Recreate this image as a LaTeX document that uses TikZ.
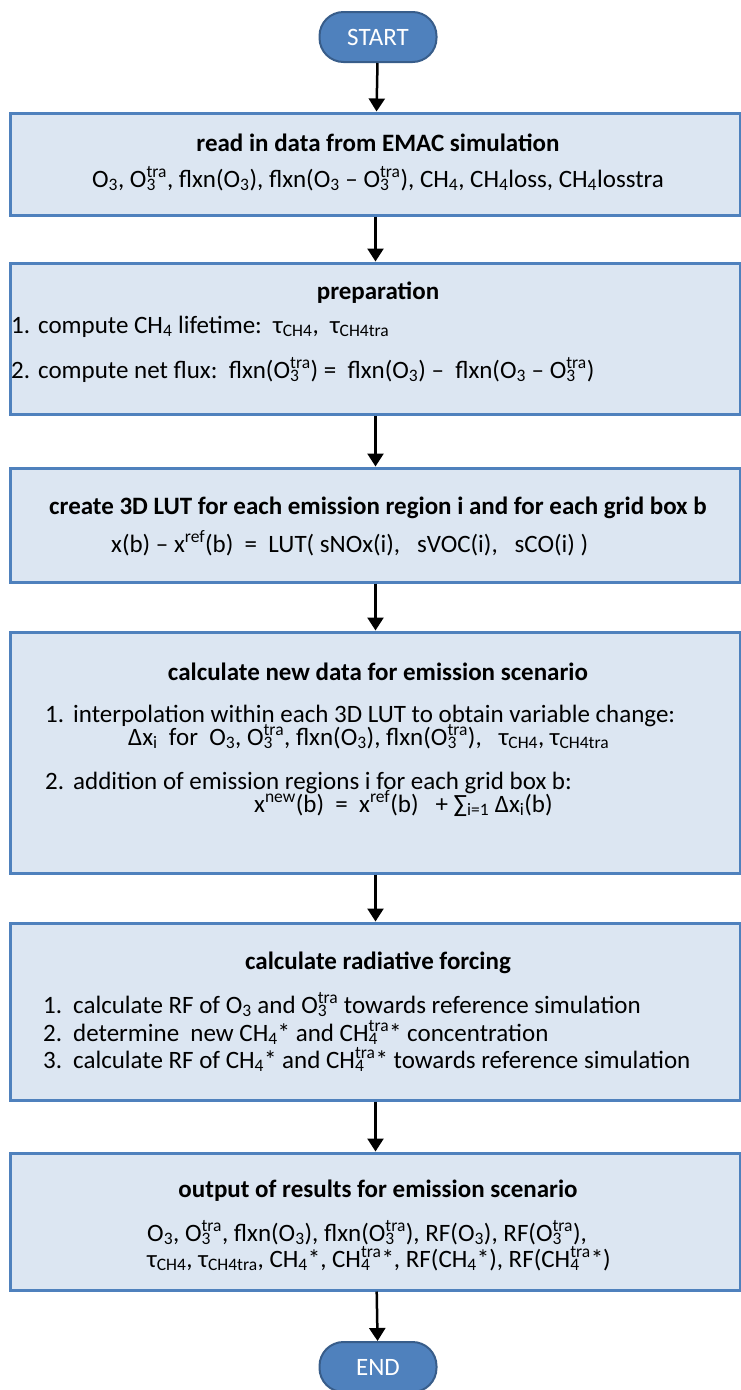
\documentclass[tikz,border=0pt]{standalone}
\usepackage{fontspec}
\setmainfont{Carlito}
\usetikzlibrary{arrows.meta}
\definecolor{boxfill}{HTML}{DCE6F2}
\definecolor{boxline}{HTML}{4F81BD}
\definecolor{termline}{HTML}{385D8A}
\newcommand{\lo}[1]{\textsubscript{#1}}
\newcommand{\subsup}[2]{\rlap{\textsubscript{#1}}\textsuperscript{#2}}
\newcommand{\num}[2]{\makebox[#1][l]{#2}}
\begin{document}
\begin{tikzpicture}[x=1pt,y=-1pt,
    box/.style={draw=boxline,fill=boxfill,line width=3pt,minimum width=730pt,inner sep=0pt},
    term/.style={draw=termline,fill=boxline,line width=2pt,rounded corners=24pt,minimum width=117pt,minimum height=50pt,text=white,font=\fontsize{25}{28}\selectfont},
    head/.style={font=\fontsize{25}{28}\selectfont\bfseries,inner sep=0pt},
    txt/.style={font=\fontsize{25}{28}\selectfont,inner sep=0pt,text height=13pt,text depth=3pt},
    arr/.style={line width=2.5pt,-{Triangle[length=13pt,width=16pt]}}]
    \useasboundingbox (0,0) rectangle (740,1390);
    \node[term] (start) at (378,37) {START};
    \node[box,minimum height=102pt] (read) at (375.5,164) {};
    \node[box,minimum height=151pt] (prep) at (375.5,338.5) {};
    \node[box,minimum height=114pt] (lut) at (375.5,525) {};
    \node[box,minimum height=241pt] (calc) at (375.5,752.5) {};
    \node[box,minimum height=177pt] (rf) at (375.5,1011.5) {};
    \node[box,minimum height=137pt] (out) at (375.5,1221.5) {};
    \node[term] (end) at (378,1367) {END};
    \node[head] (readT) at (378,143) {read in data from EMAC simulation};
    \node[txt] (readL) at (378,182) {O\lo{3}, O\subsup{3}{tra}, flxn(O\lo{3}), flxn(O\lo{3} – O\subsup{3}{tra}), CH\lo{4}, CH\lo{4}loss, CH\lo{4}losstra};
    \node[head] (prepT) at (378,293) {preparation};
    \node[txt,anchor=west] (prep1) at (11,328) {\num{27pt}{1.}compute CH\lo{4} lifetime:\ \ τ\lo{CH4},\ \ τ\lo{CH4tra}};
    \node[txt,anchor=west] (prep2) at (11,373) {\num{27pt}{2.}compute net flux:\ \ flxn(O\subsup{3}{tra}) =\ \ flxn(O\lo{3}) –\ \ flxn(O\lo{3} – O\subsup{3}{tra})};
    \node[head] (lutT) at (378,508) {create 3D LUT for each emission region i and for each grid box b};
    \node[txt,anchor=west] (lutF) at (111,547) {x(b) – x\textsuperscript{ref}(b)\ \ =\ \ LUT( sNOx(i),\ \ \ sVOC(i),\ \ \ sCO(i) )};
    \node[head] (calcT) at (378,672) {calculate new data for emission scenario};
    \node[txt,anchor=west] (calc1) at (45,717) {\num{28pt}{1.}interpolation within each 3D LUT to obtain variable change:};
    \node[txt,anchor=west] (calc1b) at (128,740) {Δx\lo{i}\ \ for\ \ O\lo{3}, O\subsup{3}{tra}, flxn(O\lo{3}), flxn(O\subsup{3}{tra}),\ \ \ τ\lo{CH4}, τ\lo{CH4tra}};
    \node[txt,anchor=west] (calc2) at (45,784) {\num{28pt}{2.}addition of emission regions i for each grid box b:};
    \node[txt,anchor=west] (calc2b) at (254,807) {x\textsuperscript{new}(b)\ \ =\ \ x\textsuperscript{ref}(b)\ \ \ +\ ∑\lo{i=1} Δx\lo{i}(b)};
    \node[head] (rfT) at (378,963) {calculate radiative forcing};
    \node[txt,anchor=west] (rf1) at (43,1008) {\num{30pt}{1.}calculate RF of O\lo{3} and O\subsup{3}{tra} towards reference simulation};
    \node[txt,anchor=west] (rf2) at (43,1036) {\num{30pt}{2.}determine\ \ new CH\lo{4}* and CH\subsup{4}{tra}* concentration};
    \node[txt,anchor=west] (rf3) at (43,1063) {\num{30pt}{3.}calculate RF of CH\lo{4}* and CH\subsup{4}{tra}* towards reference simulation};
    \node[head] (outT) at (378,1191) {output of results for emission scenario};
    \node[txt,anchor=west] (out1) at (147,1236) {O\lo{3}, O\subsup{3}{tra}, flxn(O\lo{3}), flxn(O\subsup{3}{tra}), RF(O\lo{3}), RF(O\subsup{3}{tra}),};
    \node[txt,anchor=west] (out2) at (147,1262) {τ\lo{CH4}, τ\lo{CH4tra}, CH\lo{4}*, CH\subsup{4}{tra}*, RF(CH\lo{4}*), RF(CH\subsup{4}{tra}*)};
    \draw[arr] (start) -- (read);
    \draw[arr] (read) -- (prep);
    \draw[arr] (prep) -- (lut);
    \draw[arr] (lut) -- (calc);
    \draw[arr] (calc) -- (rf);
    \draw[arr] (rf) -- (out);
    \draw[arr] (out) -- (end);
\end{tikzpicture}
\end{document}
